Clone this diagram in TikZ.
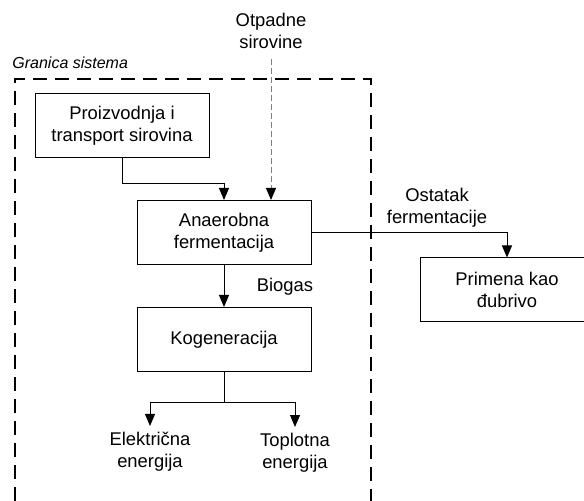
\documentclass[tikz,border=0pt]{standalone}
\usepackage{fontspec}
\setmainfont{Liberation Sans}
\usetikzlibrary{arrows.meta}
\begin{document}
\begin{tikzpicture}[x=0.5pt,y=-0.5pt,
	blok/.style={draw,line width=0.5pt,minimum width=87pt,minimum height=32pt,inner sep=0pt,align=center,font=\fontsize{9.2}{11}\selectfont},
	oznaka/.style={inner sep=3pt,align=center,font=\fontsize{9.2}{11}\selectfont},
	strelica/.style={line width=0.5pt,-{Triangle[length=6pt,width=5pt]}},
	granicna/.style={line width=0.75pt,dash pattern=on 7pt off 4pt},
	siva/.style={line width=0.5pt,gray,dash pattern=on 3pt off 1.5pt,-{Triangle[length=6pt,width=5pt,black]}}]
	\useasboundingbox (0,0) rectangle (584,501);
	\clip (0,0) rectangle (584,501);
	\draw[granicna] (15,501) -- (15,79) -- (371,79) -- (371,501);
	\node[anchor=west,inner sep=0pt,font=\fontsize{8}{10}\selectfont\itshape] (granica) at (12,63) {Granica sistema};
	\node[blok] (proizvodnja) at (122,126) {Proizvodnja i\\transport sirovina};
	\node[blok] (fermentacija) at (224,232.5) {Anaerobna\\fermentacija};
	\node[blok] (kogeneracija) at (224,339.5) {Kogeneracija};
	\node[blok] (primena) at (507,290) {Primena kao\\đubrivo};
	\node[oznaka] (otpadne) at (271,31) {Otpadne\\sirovine};
	\node[oznaka] (ostatak) at (437,207.5) {Ostatak\\fermentacije};
	\node[oznaka] (biogas) at (285,287) {Biogas};
	\node[oznaka] (elektricna) at (150,452) {Električna\\energija};
	\node[oznaka] (toplotna) at (295,453) {Toplotna\\energija};
	\draw[strelica] (proizvodnja.south) -- ++(0,25) -| (fermentacija.north);
	\draw[siva] ([yshift=-2pt]otpadne.south) -- (otpadne.south |- fermentacija.north);
	\draw[strelica] (fermentacija.east) -| (primena.north);
	\draw[strelica] (fermentacija.south) -- (kogeneracija.north);
	\draw[line width=0.5pt] (kogeneracija.south) -- ++(0,31) coordinate (grana);
	\draw[strelica] (grana) -| (elektricna.north);
	\draw[strelica] (grana) -| (toplotna.north);
\end{tikzpicture}
\end{document}
